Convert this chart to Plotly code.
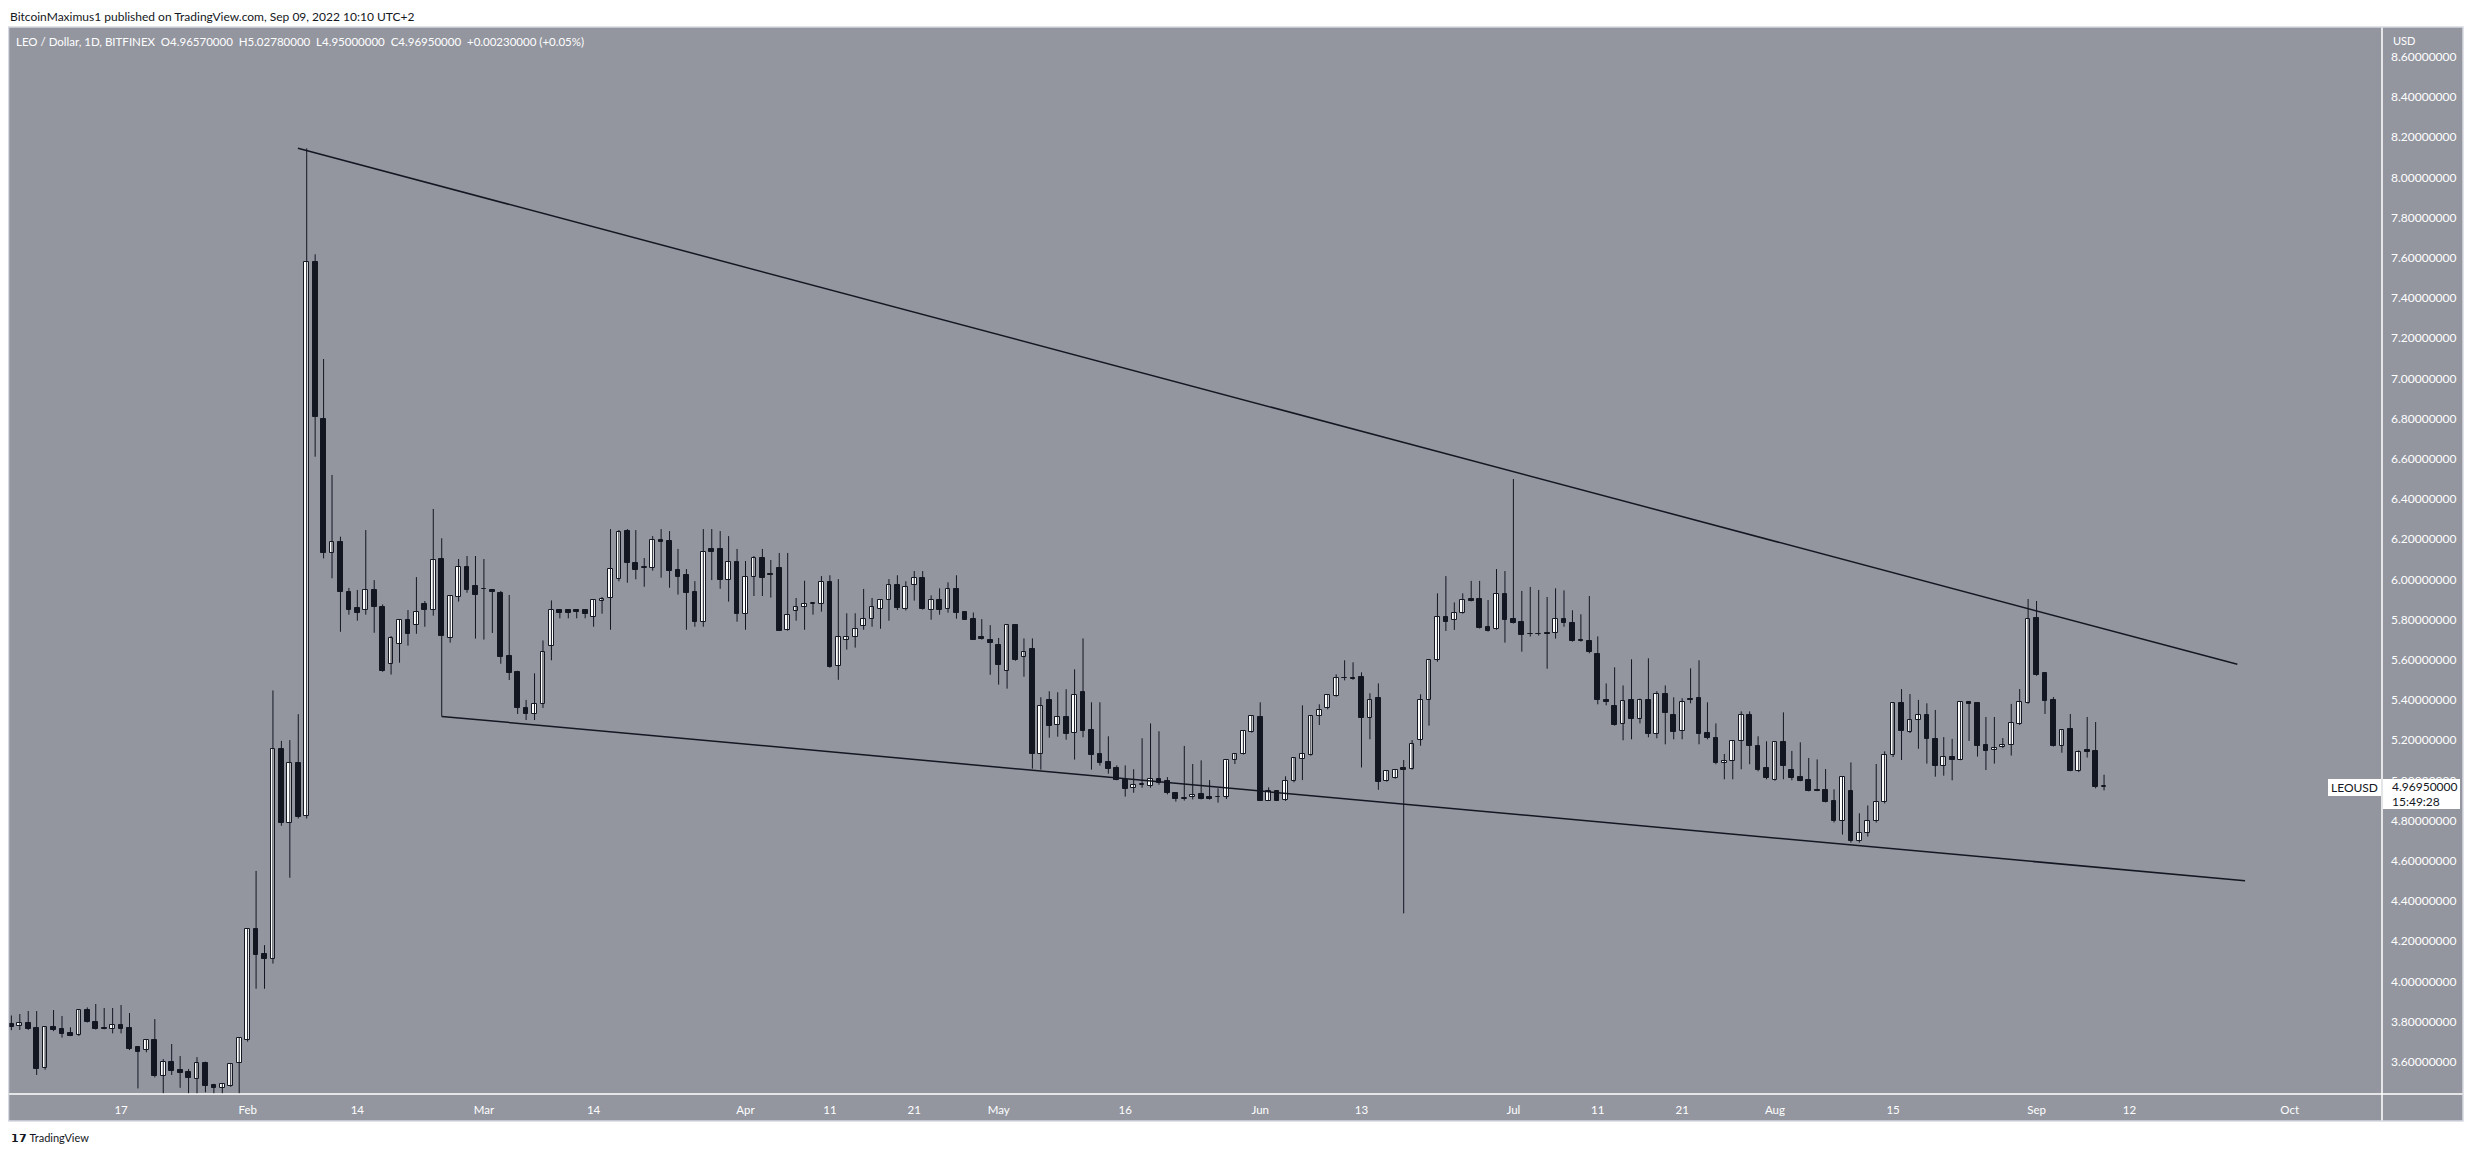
import plotly.graph_objects as go
import pandas as pd

# ---------------- data (LEO / Dollar, 1D, BITFINEX) ----------------
START_DATE = "2022-01-04"
END_DATE = "2022-09-09"

OPEN = [
    # Jan 4-31
    3.79, 3.776, 3.794, 3.768, 3.567, 3.773, 3.762, 3.743, 3.731, 3.856, 3.80, 3.766, 3.764, 3.781,
    3.768, 3.673, 3.657, 3.708, 3.53, 3.597, 3.558, 3.548, 3.512, 3.592, 3.482, 3.468, 3.48, 3.592,
    # Feb
    3.708, 4.259, 4.136, 4.109, 5.156, 4.789, 5.085, 4.824, 7.577, 6.796, 6.129, 6.184, 5.937, 5.856,
    5.846, 5.945, 5.862, 5.577, 5.676, 5.796, 5.771, 5.875, 5.846, 6.099, 5.71, 5.914, 6.06, 5.965,
    # Mar
    5.95, 5.947, 5.932, 5.618, 5.538, 5.36, 5.33, 5.38, 5.666, 5.846, 5.846, 5.845, 5.846, 5.811, 5.89,
    5.905, 6.0, 6.239, 6.083, 6.056, 6.058, 6.194, 6.19, 6.046, 6.021, 5.937, 5.786, 6.149, 6.149, 5.998, 6.084,
    # Apr
    5.829, 6.01, 6.104, 6.023, 6.054, 5.746, 5.841, 5.86, 5.877, 5.875, 5.985, 5.567, 5.696, 5.711, 5.769,
    5.801, 5.851, 5.895, 5.97, 5.851, 5.97, 6.005, 5.846, 5.895, 5.851, 5.95, 5.835, 5.802, 5.713, 5.696,
    # May
    5.673, 5.545, 5.771, 5.612, 5.652, 5.129, 5.398, 5.273, 5.313, 5.234, 5.438, 5.249, 5.129, 5.089, 5.06,
    5.0, 4.96, 4.978, 4.972, 5.005, 4.995, 4.935, 4.907, 4.915, 4.93, 4.915, 4.915, 4.918, 5.099, 5.131, 5.242,
    # Jun
    5.315, 4.899, 4.945, 4.90, 4.995, 5.104, 5.127, 5.318, 5.358, 5.421, 5.507, 5.507, 5.512, 5.308, 5.408,
    4.998, 5.01, 5.06, 5.056, 5.199, 5.398, 5.597, 5.811, 5.796, 5.834, 5.90, 5.90, 5.761, 5.754, 5.925,
    # Jul
    5.801, 5.786, 5.726, 5.727, 5.731, 5.731, 5.801, 5.781, 5.695, 5.695, 5.627, 5.398, 5.368, 5.278, 5.398,
    5.303, 5.398, 5.229, 5.431, 5.323, 5.244, 5.403, 5.408, 5.234, 5.209, 5.084, 5.094, 5.194, 5.323, 5.169, 5.06,
    # Aug
    5.0, 5.189, 5.05, 5.015, 5.0, 4.95, 4.95, 4.895, 4.796, 4.945, 4.70, 4.74, 4.796, 4.89, 5.124,
    5.383, 5.239, 5.298, 5.323, 5.204, 5.073, 5.114, 5.103, 5.388, 5.383, 5.176, 5.149, 5.164, 5.174, 5.28, 5.386,
    # Sep 1-9
    5.808, 5.532, 5.398, 5.172, 5.254, 5.048, 5.149, 5.144, 4.9657,
]

HIGH = [
    3.83, 3.837, 3.852, 3.852, 3.775, 3.857, 3.827, 3.771, 3.858, 3.87, 3.887, 3.867, 3.867, 3.882,
    3.842, 3.678, 3.71, 3.812, 3.613, 3.688, 3.628, 3.564, 3.623, 3.60, 3.49, 3.49, 3.59, 3.72,
    4.26, 4.549, 4.18, 5.447, 5.196, 5.20, 5.329, 8.144, 7.617, 7.096, 6.519, 6.212, 5.957, 5.947,
    6.245, 5.996, 5.875, 5.718, 5.80, 5.847, 6.011, 5.892, 6.35, 6.204, 5.92, 6.101, 6.116, 6.116,
    6.101, 5.952, 5.942, 5.922, 5.545, 5.40, 5.532, 5.696, 5.895, 5.847, 5.846, 5.847, 5.846, 5.897, 5.912,
    6.25, 6.245, 6.25, 6.245, 6.106, 6.215, 6.25, 6.24, 6.151, 6.051, 5.991, 6.25, 6.25, 6.24, 6.215, 6.151,
    6.091, 6.116, 6.151, 6.096, 6.131, 6.131, 5.907, 5.993, 5.884, 6.016, 6.02, 6.001, 5.831, 5.831, 5.952,
    5.907, 5.897, 6.001, 6.02, 5.99, 6.041, 6.041, 5.92, 5.955, 5.985, 6.02, 5.836, 5.835, 5.802, 5.772,
    5.708, 5.772, 5.776, 5.706, 5.706, 5.413, 5.443, 5.438, 5.453, 5.552, 5.706, 5.388, 5.388, 5.219, 5.074,
    5.074, 5.055, 5.209, 5.283, 5.244, 5.016, 4.94, 5.171, 5.081, 5.099, 5.001, 4.96, 5.10, 5.134, 5.247, 5.32,
    5.388, 4.965, 4.95, 5.02, 5.114, 5.373, 5.32, 5.378, 5.425, 5.527, 5.597, 5.587, 5.537, 5.433, 5.482,
    5.05, 5.055, 5.101, 5.20, 5.428, 5.60, 5.93, 6.016, 5.885, 5.93, 5.992, 5.992, 5.897, 6.051, 6.041,
    6.499, 5.942, 5.962, 5.947, 5.912, 5.955, 5.945, 5.846, 5.826, 5.917, 5.716, 5.482, 5.562, 5.472, 5.602,
    5.406, 5.607, 5.443, 5.472, 5.413, 5.408, 5.557, 5.597, 5.388, 5.283, 5.131, 5.20, 5.343, 5.343, 5.219, 5.194,
    5.19, 5.338, 5.146, 5.189, 5.111, 5.104, 5.056, 4.955, 5.02, 5.089, 4.836, 4.875, 5.081, 5.144, 5.385,
    5.454, 5.429, 5.40, 5.383, 5.35, 5.215, 5.206, 5.39, 5.39, 5.385, 5.315, 5.315, 5.21, 5.38, 5.454, 5.902,
    5.892, 5.535, 5.414, 5.255, 5.33, 5.149, 5.315, 5.29, 5.0278,
]

LOW = [
    3.757, 3.758, 3.758, 3.534, 3.56, 3.752, 3.72, 3.727, 3.728, 3.795, 3.76, 3.761, 3.741, 3.741,
    3.658, 3.467, 3.647, 3.522, 3.43, 3.534, 3.47, 3.43, 3.43, 3.448, 3.43, 3.43, 3.475, 3.43,
    3.70, 3.963, 3.963, 4.088, 4.774, 4.515, 4.81, 4.81, 6.61, 6.104, 6.005, 5.739, 5.824, 5.794,
    5.824, 5.734, 5.54, 5.526, 5.585, 5.67, 5.729, 5.764, 5.819, 5.318, 5.685, 5.889, 5.933, 5.705,
    5.70, 5.733, 5.58, 5.499, 5.33, 5.30, 5.30, 5.36, 5.597, 5.806, 5.806, 5.806, 5.806, 5.764, 5.829,
    5.749, 5.99, 5.983, 6.0, 5.963, 6.043, 6.008, 5.958, 5.924, 5.749, 5.764, 5.764, 5.996, 5.953, 5.889, 5.789,
    5.749, 5.917, 5.917, 5.909, 5.744, 5.744, 5.794, 5.749, 5.824, 5.839, 5.56, 5.50, 5.65, 5.66, 5.749,
    5.764, 5.754, 5.794, 5.847, 5.845, 5.894, 5.849, 5.799, 5.824, 5.834, 5.804, 5.798, 5.698, 5.70, 5.525,
    5.476, 5.456, 5.595, 5.515, 5.058, 5.053, 5.212, 5.217, 5.202, 5.103, 5.214, 5.053, 5.073, 5.033, 5.0,
    4.919, 4.938, 4.963, 4.963, 4.978, 4.93, 4.894, 4.899, 4.905, 4.905, 4.904, 4.889, 4.907, 5.081, 5.128, 5.237,
    4.897, 4.897, 4.897, 4.897, 4.99, 5.001, 5.122, 5.275, 5.353, 5.416, 5.497, 5.50, 5.064, 5.204, 4.953,
    4.993, 5.008, 4.338, 5.053, 5.172, 5.272, 5.59, 5.743, 5.748, 5.829, 5.89, 5.755, 5.74, 5.749, 5.685,
    5.78, 5.64, 5.715, 5.72, 5.555, 5.705, 5.764, 5.69, 5.69, 5.632, 5.378, 5.373, 5.272, 5.199, 5.204,
    5.283, 5.214, 5.209, 5.179, 5.204, 5.204, 5.383, 5.179, 5.204, 5.08, 5.005, 5.005, 5.055, 5.08, 5.045, 5.005,
    4.998, 5.005, 5.0, 4.995, 4.945, 4.946, 4.89, 4.79, 4.73, 4.69, 4.69, 4.72, 4.79, 4.885, 5.116,
    5.101, 5.235, 5.157, 5.083, 5.018, 5.023, 5.0, 5.10, 5.196, 5.118, 5.051, 5.083, 5.16, 5.123, 5.275, 5.381,
    5.52, 5.33, 5.168, 5.137, 5.045, 5.041, 5.113, 4.96, 4.95,
]

CLOSE = [
    3.775, 3.795, 3.765, 3.565, 3.771, 3.758, 3.739, 3.729, 3.856, 3.799, 3.764, 3.764, 3.781, 3.764,
    3.663, 3.65, 3.708, 3.529, 3.597, 3.555, 3.545, 3.52, 3.592, 3.48, 3.468, 3.489, 3.587, 3.716,
    4.259, 4.131, 4.109, 5.154, 4.789, 5.085, 4.819, 7.577, 6.806, 6.129, 6.184, 5.938, 5.849, 5.834,
    5.945, 5.864, 5.545, 5.706, 5.796, 5.729, 5.836, 5.846, 6.094, 5.716, 5.915, 6.06, 5.948, 5.924,
    5.951, 5.938, 5.615, 5.535, 5.36, 5.33, 5.38, 5.637, 5.846, 5.834, 5.834, 5.838, 5.829, 5.895, 5.904,
    6.05, 6.237, 6.083, 6.048, 6.058, 6.194, 6.187, 6.043, 6.013, 5.933, 5.789, 6.134, 6.137, 5.998, 6.084, 5.829,
    6.01, 6.104, 6.008, 6.022, 5.744, 5.821, 5.862, 5.875, 5.877, 5.985, 5.565, 5.711, 5.711, 5.751, 5.801,
    5.86, 5.895, 5.97, 5.859, 5.96, 6.005, 5.854, 5.895, 5.849, 5.95, 5.834, 5.799, 5.70, 5.705, 5.685,
    5.575, 5.771, 5.60, 5.637, 5.132, 5.371, 5.272, 5.317, 5.232, 5.423, 5.247, 5.127, 5.088, 5.058, 5.003,
    4.958, 4.978, 4.979, 5.005, 4.988, 4.935, 4.909, 4.914, 4.928, 4.909, 4.907, 4.916, 5.099, 5.132, 5.244, 5.318,
    4.899, 4.945, 4.899, 4.995, 5.109, 5.129, 5.318, 5.348, 5.423, 5.507, 5.508, 5.502, 5.308, 5.398, 4.993,
    5.048, 5.053, 5.053, 5.179, 5.398, 5.597, 5.811, 5.789, 5.834, 5.895, 5.894, 5.76, 5.745, 5.929, 5.80,
    5.784, 5.725, 5.727, 5.726, 5.726, 5.801, 5.781, 5.695, 5.694, 5.637, 5.398, 5.388, 5.277, 5.396, 5.303,
    5.398, 5.229, 5.431, 5.333, 5.239, 5.388, 5.398, 5.229, 5.209, 5.084, 5.094, 5.194, 5.323, 5.169, 5.05, 5.01,
    5.189, 5.07, 5.013, 4.998, 4.948, 4.949, 4.894, 4.796, 5.018, 4.70, 4.74, 4.796, 4.89, 5.124, 5.383,
    5.247, 5.298, 5.323, 5.204, 5.073, 5.114, 5.103, 5.388, 5.381, 5.172, 5.147, 5.162, 5.174, 5.283, 5.388, 5.801,
    5.526, 5.396, 5.172, 5.252, 5.048, 5.139, 5.142, 4.965, 4.9695,
]

# hand-drawn trendlines (date, price)
UPPER_LINE_X = ["2022-02-06 23:00", "2022-09-24 19:00"]
UPPER_LINE_Y = [8.145, 5.577]
LOWER_LINE_X = ["2022-02-24 00:00", "2022-09-25 17:00"]
LOWER_LINE_Y = [5.318, 4.50]

PRICE_TICKS = [3.6, 3.8, 4.0, 4.2, 4.4, 4.6, 4.8, 5.0, 5.2, 5.4, 5.6, 5.8, 6.0, 6.2, 6.4,
               6.6, 6.8, 7.0, 7.2, 7.4, 7.6, 7.8, 8.0, 8.2, 8.4, 8.6]
TIME_TICKS = ["2022-01-17", "2022-02-01", "2022-02-14", "2022-03-01", "2022-03-14", "2022-04-01",
              "2022-04-11", "2022-04-21", "2022-05-01", "2022-05-16", "2022-06-01", "2022-06-13",
              "2022-07-01", "2022-07-11", "2022-07-21", "2022-08-01", "2022-08-15", "2022-09-01",
              "2022-09-12", "2022-10-01"]
TIME_LABELS = ["17", "Feb", "14", "Mar", "14", "Apr", "11", "21", "May", "16", "Jun", "13",
               "Jul", "11", "21", "Aug", "15", "Sep", "12", "Oct"]

HEADER = "BitcoinMaximus1 published on TradingView.com, Sep 09, 2022 10:10 UTC+2"
LEGEND = ("LEO / Dollar, 1D, BITFINEX&nbsp;&nbsp;O4.96570000&nbsp;&nbsp;H5.02780000&nbsp;&nbsp;"
          "L4.95000000&nbsp;&nbsp;C4.96950000&nbsp;&nbsp;+0.00230000 (+0.05%)")
LAST_TIME = "15:49:28"
SYMBOL = "LEOUSD"

# ---------------- styling ----------------
DATES = pd.date_range(START_DATE, END_DATE, freq="D")
assert len(DATES) == len(OPEN) == len(HIGH) == len(LOW) == len(CLOSE)

BG = "#93969f"
DARK = "#131722"
FONT = "Lato"

# page geometry (the html body adds an 8px margin around the figure)
BODY = 8
PAGE_W, PAGE_H = 2474, 1157
PL, PR, PT, PB = 9, 2382, 27, 1094          # plot pane in page pixels
W, H = PAGE_W - 2 * BODY, PAGE_H - 2 * BODY
ML, MT = PL - BODY, PT - BODY
MR, MB = W - (PR - BODY), H - (PB - BODY)
PW, PH = PR - PL, PB - PT


def px_x(x):
    return (x - PL) / PW


def px_y(y):
    return (PB - y) / PH


wick_x, wick_y = [], []
for d, lo, hi in zip(DATES, LOW, HIGH):
    wick_x += [d, d, None]
    wick_y += [lo, hi, None]

bases = [min(o, c) for o, c in zip(OPEN, CLOSE)]
heights = [max(abs(c - o), 0.004) for o, c in zip(OPEN, CLOSE)]
fills = ["#ffffff" if c >= o else DARK for o, c in zip(OPEN, CLOSE)]

fig = go.Figure()
fig.add_trace(go.Scatter(x=wick_x, y=wick_y, mode="lines",
                         line=dict(color=DARK, width=1), hoverinfo="skip", showlegend=False))
fig.add_trace(go.Bar(x=DATES, y=heights, base=bases, width=0.56 * 86400000,
                     marker=dict(color=fills, line=dict(color=DARK, width=1)),
                     showlegend=False, hoverinfo="skip"))
fig.add_trace(go.Scatter(x=UPPER_LINE_X, y=UPPER_LINE_Y, mode="lines",
                         line=dict(color=DARK, width=1.5), showlegend=False, hoverinfo="skip"))
fig.add_trace(go.Scatter(x=LOWER_LINE_X, y=LOWER_LINE_Y, mode="lines",
                         line=dict(color=DARK, width=1.5), showlegend=False, hoverinfo="skip"))

scale_right = px_x(2463)
axis_bottom = px_y(1121)

shapes = [
    dict(type="rect", xref="paper", yref="paper", x0=1, x1=scale_right, y0=axis_bottom, y1=1,
         fillcolor=BG, line=dict(width=0), layer="below"),
    dict(type="rect", xref="paper", yref="paper", x0=0, x1=1, y0=axis_bottom, y1=0,
         fillcolor=BG, line=dict(width=0), layer="below"),
    dict(type="line", xref="paper", yref="paper", x0=1, x1=1, y0=axis_bottom, y1=1,
         line=dict(color="#ffffff", width=1.5)),
    dict(type="line", xref="paper", yref="paper", x0=0, x1=scale_right, y0=0, y1=0,
         line=dict(color="#ffffff", width=1.5)),
    dict(type="rect", xref="paper", yref="paper", x0=px_x(8.5), x1=scale_right, y0=axis_bottom, y1=1,
         line=dict(color="#d6d9e1", width=1.5)),
    # last price label boxes
    dict(type="rect", xref="paper", yref="paper", x0=px_x(2383), x1=px_x(2460),
         y0=px_y(809), y1=px_y(779), fillcolor="#ffffff", line=dict(width=0), layer="above"),
    dict(type="rect", xref="paper", yref="paper", x0=px_x(2328), x1=px_x(2381),
         y0=px_y(796), y1=px_y(779), fillcolor="#ffffff", line=dict(width=0), layer="above"),
]

annotations = [
    dict(text=HEADER, xref="paper", yref="paper", x=px_x(8), y=px_y(16), xanchor="left",
         yanchor="middle", showarrow=False, font=dict(family=FONT, size=12, color=DARK)),
    dict(text=LEGEND, xref="paper", yref="paper", x=px_x(14), y=px_y(41), xanchor="left",
         yanchor="middle", showarrow=False, font=dict(family=FONT, size=11.5, color="#ffffff")),
    dict(text="USD", xref="paper", yref="paper", x=px_x(2391), y=px_y(40), xanchor="left",
         yanchor="middle", showarrow=False, font=dict(family=FONT, size=11, color="#ffffff")),
    dict(text=f"{CLOSE[-1]:.8f}", xref="paper", yref="paper", x=px_x(2390), y=px_y(786.5),
         xanchor="left", yanchor="middle", showarrow=False, font=dict(family=FONT, size=12, color=DARK)),
    dict(text=LAST_TIME, xref="paper", yref="paper", x=px_x(2390), y=px_y(801),
         xanchor="left", yanchor="middle", showarrow=False, font=dict(family=FONT, size=12, color=DARK)),
    dict(text=SYMBOL, xref="paper", yref="paper", x=px_x(2354.5), y=px_y(787.5),
         xanchor="center", yanchor="middle", showarrow=False, font=dict(family=FONT, size=12, color=DARK)),
    dict(text="<b>𝟭𝟳</b> TradingView", xref="paper", yref="paper", x=px_x(9), y=px_y(1137),
         xanchor="left", yanchor="middle", showarrow=False, font=dict(family=FONT, size=11, color=DARK)),
]

fig.update_layout(
    width=W, height=H,
    margin=dict(l=ML, r=MR, t=MT, b=MB, pad=0),
    paper_bgcolor="#ffffff", plot_bgcolor=BG,
    bargap=0, showlegend=False,
    shapes=shapes, annotations=annotations,
    xaxis=dict(type="date", range=["2022-01-03 17:16", "2022-10-11 22:30"],
               showgrid=False, zeroline=False, showline=False, ticks="",
               tickvals=TIME_TICKS, ticktext=TIME_LABELS, ticklabelstandoff=7,
               tickfont=dict(family=FONT, size=11.5, color="#ffffff"), fixedrange=True),
    yaxis=dict(side="right", range=[3.4393, 8.7478], showgrid=False, zeroline=False, showline=False,
               ticks="", tickvals=PRICE_TICKS, ticktext=[f"{v:.8f}" for v in PRICE_TICKS],
               ticklabelstandoff=8, tickfont=dict(family=FONT, size=12, color="#ffffff"),
               fixedrange=True),
)

fig.write_html("out.html")
